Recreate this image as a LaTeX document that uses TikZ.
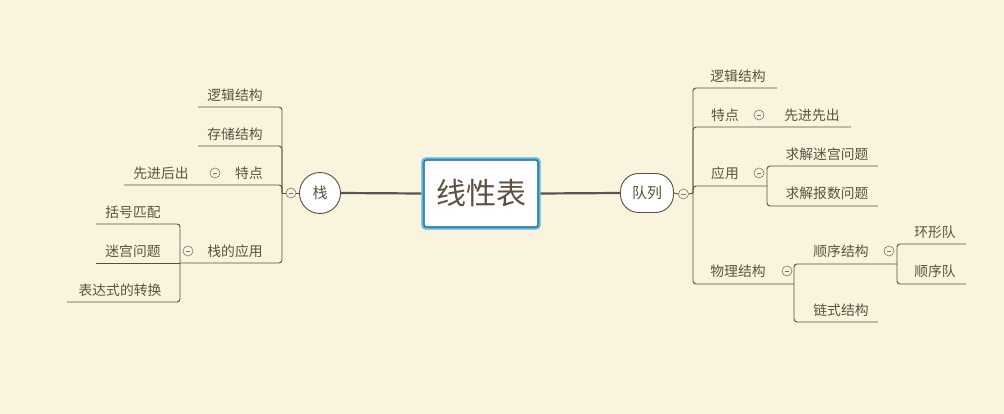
\documentclass[tikz,border=0pt]{standalone}
\usepackage{fontspec}
\newfontfamily\cjk{Noto Sans CJK SC}
\definecolor{bg}{HTML}{F9F4DD}
\definecolor{txt}{HTML}{5E5141}
\definecolor{ln}{HTML}{5A4E40}
\definecolor{mainln}{HTML}{555555}
\definecolor{bluein}{HTML}{1F6E9C}
\definecolor{blueout}{HTML}{5BB3E0}
\tikzset{
  lbl/.style={font=\cjk\fontsize{13.8}{15}\selectfont, text=txt, inner sep=0pt},
  br/.style={draw=ln, line width=0.9pt, rounded corners=3pt},
  mainc/.style={draw=mainln, line width=2.2pt},
  fold/.style={circle, draw=txt!80, line width=0.6pt, fill=bg, minimum size=10pt, inner sep=0pt,
    path picture={\draw[txt!80, line width=0.6pt] ([xshift=-2.3pt]path picture bounding box.center) -- ([xshift=2.3pt]path picture bounding box.center);}},
}
\begin{document}
\begin{tikzpicture}[x=1pt,y=-1pt]
\useasboundingbox[fill=bg] (0,0) rectangle (1004,414);
% central node
\node[draw=blueout, line width=3.2pt, rounded corners=3pt, minimum width=116pt, minimum height=69pt, fill=white] (root) at (481,193.5) {};
\node[draw=bluein, line width=1.1pt, rounded corners=2.5pt, minimum width=114pt, minimum height=67pt, inner sep=0pt] (rootin) at (481,193.5) {};
\node[font=\cjk\fontsize{30}{32}\selectfont, text=txt] (roottxt) at (481,193) {线性表};
% stack
\node[circle, draw=ln, line width=0.9pt, fill=white, minimum size=41pt, inner sep=0pt, font=\cjk\fontsize{15}{16}\selectfont, text=txt] (zhan) at (320,193) {栈};
\node[fold] (zf) at (291,193) {};
\coordinate (sj) at (282,193);
\draw[mainc] (root.west) -- (zhan.east);
\draw[br] (zhan.west) -- (zf.east);
\draw[br] (zf.west) -- (sj);
\coordinate (s1) at (198,107);
\coordinate (s2) at (198,146);
\coordinate (s3) at (124,185);
\coordinate (sj2) at (180,263);
\draw[br] (sj) |- (s1);
\draw[br] (sj) |- (s2);
\draw[br] (sj) |- (s3);
\draw[br] (sj) |- (sj2);
\node[lbl] (t1) at (235,95) {逻辑结构};
\node[lbl] (t2) at (235,134) {存储结构};
\node[lbl] (t3) at (249,173) {特点};
\node[fold] (f3) at (215,173) {};
\node[lbl] (t31) at (161,173) {先进后出};
\node[lbl] (t4) at (235,251) {栈的应用};
\node[fold] (f4) at (188,251) {};
\coordinate (s41) at (96,224);
\coordinate (s42) at (96,263);
\coordinate (s43) at (67,302);
\draw[br] (sj2) |- (s41);
\draw[br] (sj2) -- (s42);
\draw[br] (sj2) |- (s43);
\node[lbl] (t41) at (133,212) {括号匹配};
\node[lbl] (t42) at (133,251) {迷宫问题};
\node[lbl] (t43) at (120,290) {表达式的转换};
% queue
\node[draw=ln, line width=0.9pt, fill=white, rounded corners=18pt, minimum width=53pt, minimum height=39pt, inner sep=0pt, font=\cjk\fontsize{15}{16}\selectfont, text=txt] (dl) at (647,193) {队列};
\node[fold] (qf) at (683.5,194) {};
\coordinate (rj) at (693,193);
\draw[mainc] (root.east) -- (dl.west);
\draw[br] (dl.east) -- (qf.west);
\draw[br] (qf.east) -- (rj);
\coordinate (q1) at (777,88);
\coordinate (q2) at (851,127);
\coordinate (rj2) at (767,186);
\coordinate (rj3) at (794,284);
\draw[br] (rj) |- (q1);
\draw[br] (rj) |- (q2);
\draw[br] (rj) |- (rj2);
\draw[br] (rj) |- (rj3);
\node[lbl] (u1) at (738,76) {逻辑结构};
\node[lbl] (u2) at (725,115) {特点};
\node[fold] (g2) at (759,115) {};
\node[lbl] (u21) at (812,115) {先进先出};
\node[lbl] (u3) at (725,173) {应用};
\node[fold] (g3) at (759,173) {};
\coordinate (q31) at (878,166);
\coordinate (q32) at (878,206);
\draw[br] (rj2) |- (q31);
\draw[br] (rj2) |- (q32);
\node[lbl] (u31) at (827,154) {求解迷宫问题};
\node[lbl] (u32) at (827,193) {求解报数问题};
\node[lbl] (u4) at (738,271) {物理结构};
\node[fold] (g4) at (787,271) {};
\coordinate (rj4) at (897,264);
\coordinate (q42) at (878,322);
\draw[br] (rj3) |- (rj4);
\draw[br] (rj3) |- (q42);
\node[lbl] (u41) at (841,251) {顺序结构};
\node[fold] (g41) at (889,251) {};
\node[lbl] (u42) at (841,310) {链式结构};
\coordinate (q411) at (966,244);
\coordinate (q412) at (966,284);
\draw[br] (rj4) |- (q411);
\draw[br] (rj4) |- (q412);
\node[lbl] (u411) at (935,232) {环形队};
\node[lbl] (u412) at (935,271) {顺序队};
\end{tikzpicture}
\end{document}
